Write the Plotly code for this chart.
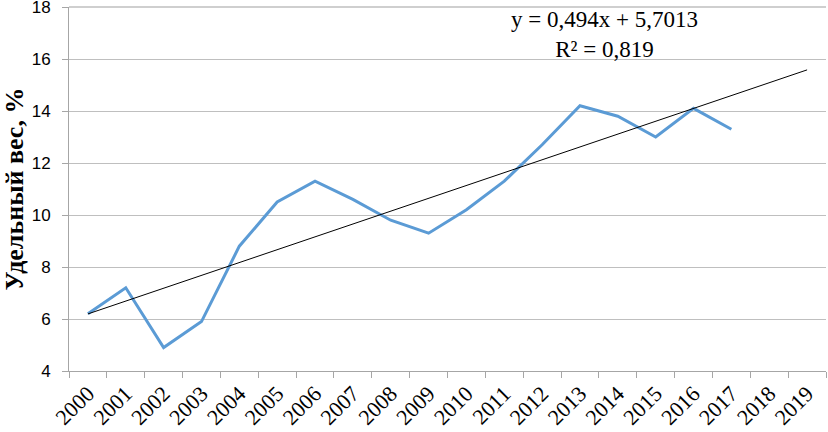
import plotly.graph_objects as go

years = [str(y) for y in range(2000, 2020)]
values = [6.2, 7.2, 4.9, 5.9, 8.8, 10.5, 11.3, 10.6, 9.8, 9.3, 10.2, 11.3, 12.7, 14.2, 13.8, 13.0, 14.1, 13.3]
trend_slope = 0.494
trend_intercept = 5.7013
r_squared = 0.819
y_ticks = [4, 6, 8, 10, 12, 14, 16, 18]

trend = [trend_slope * (i + 1) + trend_intercept for i in range(len(years))]

fig = go.Figure()
fig.add_trace(go.Scatter(x=years[:len(values)], y=values, mode="lines",
                         line=dict(color="#5b9bd5", width=3), showlegend=False))
fig.add_trace(go.Scatter(x=years, y=trend, mode="lines",
                         line=dict(color="black", width=1), showlegend=False))

# top gridline at the upper edge of the plot area (Plotly omits it at the range edge)
fig.add_shape(type="line", xref="paper", yref="paper", x0=0, x1=1, y0=1, y1=1,
              line=dict(color="#bfbfbf", width=1.3), layer="below")

fig.add_annotation(xref="paper", yref="paper", x=0.707, xanchor="center",
                   y=1.005, yanchor="top",
                   text="y = 0,494x + 5,7013<br>R² = 0,819", showarrow=False,
                   font=dict(family="Liberation Serif", size=23, color="black"),
                   align="center")

fig.update_layout(
    width=828, height=432,
    margin=dict(l=69, r=2, t=7, b=61),
    paper_bgcolor="white", plot_bgcolor="white",
    xaxis=dict(type="category", categoryorder="array", categoryarray=years,
               range=[-0.5, 19.5], tickangle=-45, tickson="boundaries",
               ticks="outside", ticklen=6, tickcolor="#a6a6a6", automargin=False,
               showline=True, linecolor="#a6a6a6", linewidth=1, showgrid=False,
               tickfont=dict(family="Liberation Serif", size=22, color="black")),
    yaxis=dict(range=[4, 18], tickvals=y_ticks, ticks="outside", ticklen=6,
               tickcolor="#a6a6a6", showline=True, linecolor="#a6a6a6",
               gridcolor="#bfbfbf", gridwidth=1.3, zeroline=False, automargin=False,
               ticklabelstandoff=8, ticklabeloverflow="allow",
               tickfont=dict(family="Liberation Sans", size=17, color="black"),
               title=dict(text="<b>Удельный вес, %</b>", standoff=10,
                          font=dict(family="Liberation Serif", size=26, color="black"))),
)

fig.write_html("out.html", config={"displayModeBar": False},
               post_script="document.body.style.margin='0px';")
